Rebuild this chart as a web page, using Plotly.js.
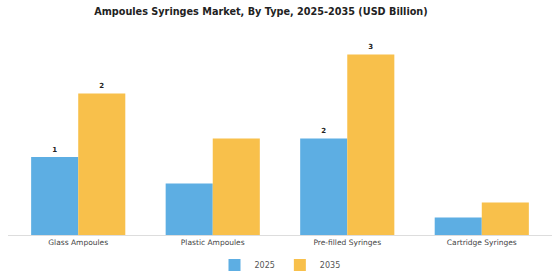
<!DOCTYPE html>
<html><head><meta charset="utf-8">
<script src="https://cdn.plot.ly/plotly-3.0.1.min.js"></script>
<style>html,body{margin:0;padding:0;background:#fff;}#chart{width:560px;height:280px;}</style>
</head><body><div id="chart"></div>
<script>
const categories = ["Glass Ampoules", "Plastic Ampoules", "Pre-filled Syringes", "Cartridge Syringes"];
const values2025 = [1.3, 0.86, 1.61, 0.29];
const values2035 = [2.36, 1.61, 3.01, 0.54];
const labels2025 = ["1", "", "2", ""];
const labels2035 = ["2", "", "3", ""];
const seriesNames = ["2025", "2035"];

const labelFont = {family: "DejaVu Sans", size: 7, color: "#222", weight: "bold"};
const traces = [
  {type: "bar", name: seriesNames[0], x: categories, y: values2025, marker: {color: "#5DAEE3"},
   text: labels2025, textposition: "outside", textfont: labelFont, cliponaxis: false, hoverinfo: "none"},
  {type: "bar", name: seriesNames[1], x: categories, y: values2035, marker: {color: "#F8C04B"},
   text: labels2035, textposition: "outside", textfont: labelFont, cliponaxis: false, hoverinfo: "none"}
];
const layout = {
  width: 560, height: 280,
  margin: {l: 8, r: 8, t: 40, b: 45, autoexpand: false},
  paper_bgcolor: "#fff", plot_bgcolor: "#fff",
  title: {text: "<b>Ampoules Syringes Market, By Type, 2025-2035 (USD Billion)</b>", x: 0.466, xanchor: "center", y: 0.96, yanchor: "middle",
          font: {family: "DejaVu Sans", size: 9.7, color: "#222"}},
  barmode: "group", bargap: 0.3, bargroupgap: 0,
  xaxis: {type: "category", range: [-0.522, 3.522], showline: true, linecolor: "#ddd", linewidth: 1, ticks: "",
          tickfont: {family: "DejaVu Sans", size: 7.5, color: "#444"}, showgrid: false, zeroline: false, automargin: false},
  yaxis: {range: [0, 3.25], visible: false, showgrid: false, zeroline: false},
  showlegend: true,
  legend: {orientation: "h", x: 0.5, xanchor: "center", yref: "container", y: 0.054, yanchor: "middle",
           font: {family: "DejaVu Sans", size: 8, color: "#555"}, traceorder: "normal"}
};
Plotly.newPlot("chart", traces, layout, {staticPlot: true, displayModeBar: false});
</script></body></html>
